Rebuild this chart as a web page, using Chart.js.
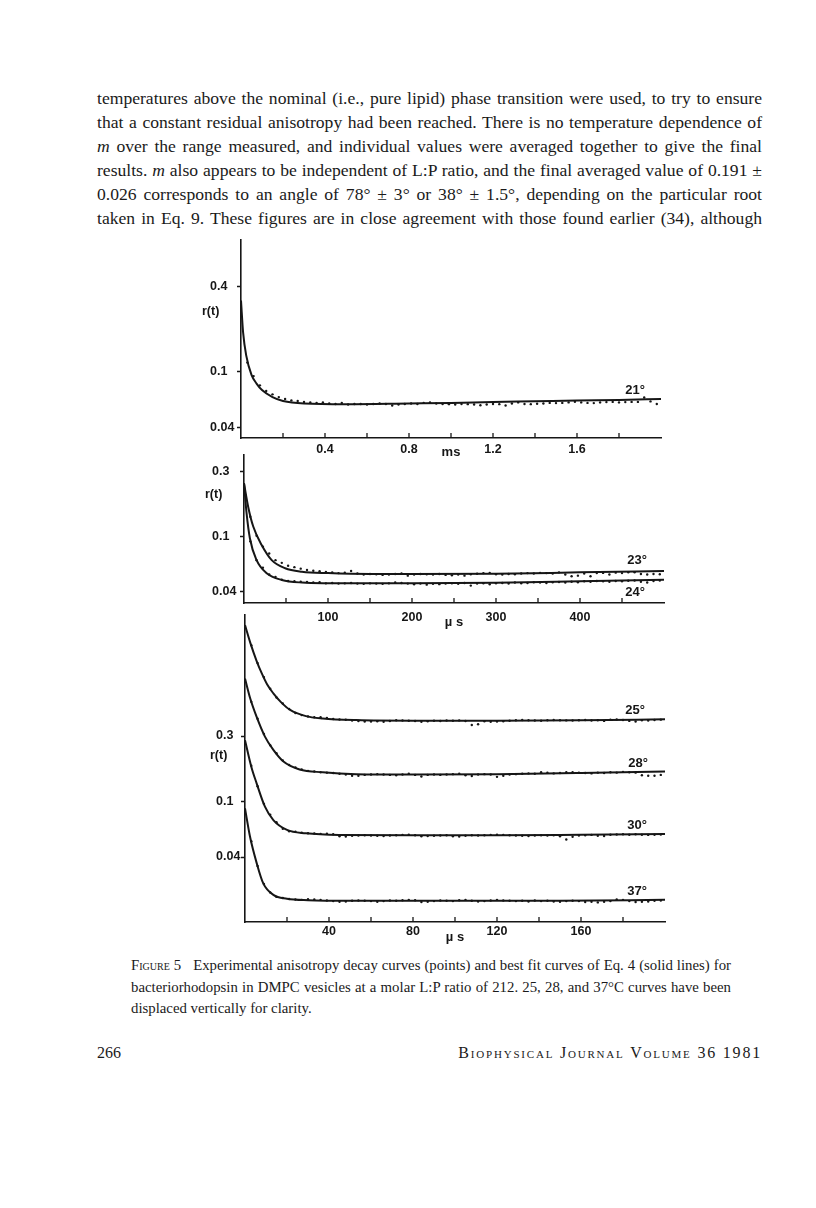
<!DOCTYPE html>
<html>
<head>
<meta charset="utf-8">
<script src="https://cdn.jsdelivr.net/npm/chart.js@4.4.1/dist/chart.umd.min.js"></script>
<style>
body { margin: 0; width: 816px; height: 1208px; position: relative; overflow: hidden; background: #fff; color: #1a1a1a; font-family: "Liberation Serif", "Times New Roman", serif; }
.txt { position: absolute; left: 97px; top: 86px; width: 665px; font-size: 17.6px; line-height: 24px; }
.txt div, .cap .j { text-align: justify; text-align-last: justify; white-space: nowrap; }
.cap { position: absolute; left: 131px; top: 955px; width: 600px; font-size: 14.8px; line-height: 21.5px; }
.sc { font-variant: small-caps; }
.foot { position: absolute; top: 1044px; font-size: 16px; line-height: 18px; }
canvas { position: absolute; left: 0; }
.rt { position: absolute; font: bold 12.5px "Liberation Sans", Arial, sans-serif; color: #161616; }
</style>
</head>
<body>
<div class="txt">
<div>temperatures above the nominal (i.e., pure lipid) phase transition were used, to try to ensure</div>
<div>that a constant residual anisotropy had been reached. There is no temperature dependence of</div>
<div><i>m</i> over the range measured, and individual values were averaged together to give the final</div>
<div>results. <i>m</i> also appears to be independent of L:P ratio, and the final averaged value of 0.191 ±</div>
<div>0.026 corresponds to an angle of 78° ± 3° or 38° ± 1.5°, depending on the particular root</div>
<div>taken in Eq. 9. These figures are in close agreement with those found earlier (34), although</div>
</div>

<canvas id="p1" width="700" height="230" style="top:230px"></canvas>
<canvas id="p2" width="700" height="185" style="top:445px"></canvas>
<canvas id="p3" width="700" height="340" style="top:605px"></canvas>
<div class="rt" style="left:202px;top:304px">r(t)</div>
<div class="rt" style="left:205px;top:487px">r(t)</div>
<div class="rt" style="left:210px;top:748px">r(t)</div>

<div class="cap">
<div class="j"><span class="sc">Figure 5</span>&nbsp;&nbsp; Experimental anisotropy decay curves (points) and best fit curves of Eq. 4 (solid lines) for</div>
<div class="j">bacteriorhodopsin in DMPC vesicles at a molar L:P ratio of 212. 25, 28, and 37°C curves have been</div>
<div>displaced vertically for clarity.</div>
</div>

<div class="foot" style="left:97px">266</div>
<div class="foot sc" style="right:54px;letter-spacing:1.8px">Biophysical Journal Volume 36 1981</div>

<script>
// Figure 5: anisotropy decay r(t), log y axis

// ---- top panel, 21 C, time in ms ----
const fitT21 = [0, 0.01, 0.025, 0.05, 0.075, 0.1, 0.15, 0.2, 0.3, 0.5, 0.8, 1.0, 1.2, 1.4, 1.6, 1.8, 2.0];
const fit21 = [0.32, 0.19, 0.13, 0.095, 0.082, 0.074, 0.066, 0.062, 0.0595, 0.0588, 0.0595, 0.060, 0.061, 0.0617, 0.0625, 0.063, 0.064];
const dotT1 = [0.03, 0.06, 0.09, 0.12, 0.15, 0.18, 0.21, 0.24, 0.27, 0.30, 0.33, 0.36, 0.39, 0.42, 0.45, 0.48, 0.51, 0.54, 0.57, 0.60,
  0.63, 0.66, 0.69, 0.72, 0.75, 0.78, 0.81, 0.84, 0.87, 0.90, 0.93, 0.96, 0.99, 1.02, 1.05, 1.08, 1.11, 1.14, 1.17, 1.20,
  1.23, 1.26, 1.29, 1.32, 1.35, 1.38, 1.41, 1.44, 1.47, 1.50, 1.53, 1.56, 1.59, 1.62, 1.65, 1.68, 1.71, 1.74, 1.77, 1.80,
  1.83, 1.86, 1.89, 1.92, 1.95, 1.98];
const dots21 = [0.116, 0.093, 0.080, 0.073, 0.069, 0.066, 0.064, 0.0625, 0.062, 0.061, 0.0605, 0.060, 0.0605, 0.0595, 0.059, 0.060, 0.0585, 0.059, 0.059, 0.0585,
  0.059, 0.0595, 0.059, 0.0575, 0.0585, 0.059, 0.0595, 0.059, 0.060, 0.0605, 0.0595, 0.059, 0.0588, 0.0585, 0.059, 0.0588, 0.0585, 0.0578, 0.0585, 0.059,
  0.0588, 0.0575, 0.0595, 0.0605, 0.059, 0.0588, 0.0592, 0.0595, 0.060, 0.0598, 0.060, 0.0605, 0.0612, 0.0605, 0.060, 0.0598, 0.0605, 0.0608, 0.061, 0.0605,
  0.0608, 0.061, 0.061, 0.0655, 0.0615, 0.059];
const xTicks1 = [0.2, 0.4, 0.6, 0.8, 1.0, 1.2, 1.4, 1.6, 1.8];
const xLabels1 = [0.4, 0.8, 1.2, 1.6];
const yTicks1 = [0.04, 0.1, 0.4];

// ---- middle panel, 23 and 24 C, time in us ----
const fitT23 = [0, 5, 11, 21, 33, 49, 69, 100, 150, 200, 300, 400, 500];
const fit23 = [0.245, 0.165, 0.119, 0.0875, 0.068, 0.0594, 0.0561, 0.0548, 0.054, 0.054, 0.0542, 0.0555, 0.0568];
const fitT24 = [0, 3, 7, 15, 27, 45, 69, 100, 150, 200, 300, 400, 500];
const fit24 = [0.245, 0.15, 0.098, 0.068, 0.0547, 0.0489, 0.0468, 0.0463, 0.0462, 0.0462, 0.0467, 0.0478, 0.049];
const dotT2 = [7.5, 15, 22.5, 30, 37.5, 45, 52.5, 60, 67.5, 75, 82.5, 90, 97.5, 105, 112.5, 120, 127.5, 135, 142.5, 150,
  157.5, 165, 172.5, 180, 187.5, 195, 202.5, 210, 217.5, 225, 232.5, 240, 247.5, 255, 262.5, 270, 277.5, 285, 292.5, 300,
  307.5, 315, 322.5, 330, 337.5, 345, 352.5, 360, 367.5, 375, 382.5, 390, 397.5, 405, 412.5, 420, 427.5, 435, 442.5, 450,
  457.5, 465, 472.5, 480, 487.5, 495];
const dots23 = [0.140, 0.102, 0.085, 0.076, 0.068, 0.065, 0.062, 0.0605, 0.059, 0.0577, 0.057, 0.0565, 0.0558, 0.0555, 0.0548, 0.0552, 0.0568, 0.0545, 0.0535, 0.054,
  0.0538, 0.0532, 0.0535, 0.054, 0.0545, 0.0525, 0.0535, 0.054, 0.0538, 0.0535, 0.054, 0.0532, 0.0528, 0.0535, 0.0525, 0.0538, 0.0542, 0.0548, 0.055, 0.0538,
  0.0535, 0.054, 0.0538, 0.0545, 0.0548, 0.0545, 0.055, 0.0548, 0.0545, 0.0555, 0.0535, 0.052, 0.0525, 0.0545, 0.052, 0.0548, 0.055, 0.0535, 0.0552, 0.0548,
  0.0555, 0.0555, 0.054, 0.0535, 0.054, 0.0538];
const dots24 = [0.093, 0.068, 0.060, 0.0535, 0.0515, 0.049, 0.048, 0.0478, 0.0475, 0.0472, 0.0468, 0.047, 0.0462, 0.0465, 0.046, 0.0462, 0.0465, 0.046, 0.0458, 0.0462,
  0.046, 0.0458, 0.0462, 0.0468, 0.0465, 0.046, 0.0455, 0.046, 0.0452, 0.0458, 0.0456, 0.046, 0.0462, 0.0458, 0.0465, 0.0445, 0.046, 0.0462, 0.0455, 0.0462,
  0.0465, 0.046, 0.0468, 0.0462, 0.0465, 0.047, 0.0468, 0.0465, 0.047, 0.0472, 0.0468, 0.0475, 0.047, 0.0478, 0.0475, 0.048, 0.0478, 0.0475, 0.048, 0.0478,
  0.0482, 0.0485, 0.0475, 0.0468, 0.048, 0.0485];
const xTicks2 = [50, 100, 150, 200, 250, 300, 350, 400, 450];
const xLabels2 = [100, 200, 300, 400];
const yTicks2 = [0.04, 0.1, 0.3];

// ---- bottom panel, 25/28/30/37 C (displaced), time in us ----
const fitT25 = [0, 2.5, 5.5, 8, 10.5, 13.5, 17, 21.5, 29, 37, 53, 80, 120, 160, 200];
const fit25 = [1.9, 1.42, 1.05, 0.85, 0.71, 0.61, 0.53, 0.463, 0.418, 0.402, 0.391, 0.387, 0.387, 0.39, 0.396];
const fitT28 = [0, 2.5, 5.5, 9.5, 13.5, 18, 26, 37, 53, 80, 120, 160, 200];
const fit28 = [0.78, 0.56, 0.414, 0.297, 0.238, 0.198, 0.172, 0.164, 0.159, 0.158, 0.159, 0.162, 0.166];
const fitT30 = [0, 3, 5.5, 9.5, 13.5, 20, 29, 45, 80, 120, 160, 200];
const fit30 = [0.28, 0.18, 0.137, 0.0925, 0.074, 0.0628, 0.0594, 0.0578, 0.0575, 0.0575, 0.058, 0.0587];
const fitT37 = [0, 2.4, 5.6, 8.7, 13.5, 20, 30, 50, 100, 150, 200];
const fit37 = [0.09, 0.056, 0.036, 0.0258, 0.0213, 0.020, 0.0195, 0.0193, 0.0193, 0.0193, 0.0196];
const dotT3 = [3, 6, 9, 12, 15, 18, 21, 24, 27, 30, 33, 36, 39, 42, 45, 48, 51, 54, 57, 60,
  63, 66, 69, 72, 75, 78, 81, 84, 87, 90, 93, 96, 99, 102, 105, 108, 111, 114, 117, 120,
  123, 126, 129, 132, 135, 138, 141, 144, 147, 150, 153, 156, 159, 162, 165, 168, 171, 174, 177, 180,
  183, 186, 189, 192, 195, 198];
const dots25 = [1.36, 1.01, 0.80, 0.66, 0.57, 0.515, 0.47, 0.44, 0.425, 0.415, 0.41, 0.41, 0.405, 0.398, 0.395, 0.393, 0.388, 0.385, 0.382, 0.382,
  0.383, 0.38, 0.385, 0.39, 0.388, 0.387, 0.385, 0.38, 0.383, 0.387, 0.385, 0.388, 0.387, 0.389, 0.385, 0.36, 0.365, 0.383, 0.38, 0.382,
  0.383, 0.387, 0.39, 0.392, 0.39, 0.388, 0.387, 0.39, 0.392, 0.39, 0.389, 0.388, 0.39, 0.392, 0.388, 0.39, 0.386, 0.393, 0.395, 0.392,
  0.386, 0.382, 0.39, 0.388, 0.392, 0.394];
const dots28 = [0.53, 0.40, 0.31, 0.257, 0.225, 0.2, 0.185, 0.178, 0.172, 0.168, 0.166, 0.164, 0.163, 0.162, 0.16, 0.158, 0.155, 0.155, 0.157, 0.158,
  0.159, 0.158, 0.157, 0.156, 0.158, 0.16, 0.157, 0.153, 0.157, 0.158, 0.157, 0.158, 0.159, 0.16, 0.156, 0.154, 0.158, 0.159, 0.158, 0.152,
  0.155, 0.158, 0.159, 0.16, 0.161, 0.16, 0.164, 0.163, 0.161, 0.162, 0.164, 0.164, 0.163, 0.162, 0.161, 0.163, 0.162, 0.164, 0.163, 0.165,
  0.164, 0.163, 0.156, 0.155, 0.155, 0.157];
const dots30 = [0.183, 0.13, 0.097, 0.081, 0.0715, 0.064, 0.0615, 0.061, 0.06, 0.0595, 0.0592, 0.0588, 0.059, 0.0585, 0.0565, 0.0562, 0.057, 0.0572, 0.0575, 0.0572,
  0.057, 0.0568, 0.0572, 0.0575, 0.0578, 0.058, 0.0575, 0.0565, 0.0568, 0.057, 0.0572, 0.0575, 0.0565, 0.0562, 0.057, 0.0575, 0.0572, 0.0575, 0.0578, 0.058,
  0.0578, 0.0575, 0.0572, 0.057, 0.0568, 0.0572, 0.0575, 0.0572, 0.0575, 0.0565, 0.0535, 0.056, 0.0572, 0.0575, 0.0578, 0.057, 0.0568, 0.058, 0.0582, 0.0585,
  0.058, 0.0585, 0.058, 0.0578, 0.058, 0.0582];
const dots37 = [0.052, 0.0345, 0.0255, 0.0222, 0.0206, 0.0202, 0.0199, 0.0197, 0.0196, 0.0198, 0.0197, 0.0196, 0.0194, 0.0192, 0.019, 0.0191, 0.0193, 0.0194, 0.0193, 0.0192,
  0.019, 0.0192, 0.0194, 0.0193, 0.0195, 0.0196, 0.0195, 0.0189, 0.019, 0.0192, 0.0194, 0.0193, 0.0192, 0.0195, 0.0196, 0.0193, 0.0191, 0.0192, 0.0194, 0.0196,
  0.0194, 0.0193, 0.0192, 0.0193, 0.0191, 0.0194, 0.0192, 0.0193, 0.0191, 0.019, 0.0192, 0.0193, 0.0192, 0.0189, 0.019, 0.0188, 0.019, 0.0192, 0.0197, 0.0196,
  0.0192, 0.0189, 0.019, 0.0191, 0.0193, 0.0194];
const xTicks3 = [20, 40, 60, 80, 100, 120, 140, 160, 180];
const xLabels3 = [40, 80, 120, 160];
const yTicks3 = [0.04, 0.1, 0.3];

const ink = '#161616';
const axisFont = { family: '"Liberation Sans", Arial, sans-serif', size: 12.5, weight: 'bold' };

function pts(xs, ys) {
  return xs.map((x, i) => ({ x: x, y: ys[i] }));
}

function fitSet(xs, ys, tag, tagDx, tagDy) {
  return {
    data: pts(xs, ys), showLine: true, borderColor: ink, borderWidth: 2,
    pointRadius: 0, cubicInterpolationMode: 'monotone',
    tag: tag, tagDx: tagDx, tagDy: tagDy
  };
}

function dotSet(xs, ys) {
  return { data: pts(xs, ys), showLine: false, pointRadius: 1.2, pointBackgroundColor: ink, pointBorderWidth: 0 };
}

// tick marks on the x axis point up into the plot
const innerTicks = {
  id: 'innerTicks',
  afterDraw(chart) {
    const sx = chart.scales.x, ctx = chart.ctx, b = chart.chartArea.bottom;
    ctx.save();
    ctx.strokeStyle = ink;
    ctx.lineWidth = 1.3;
    sx.ticks.forEach(tk => {
      const px = sx.getPixelForValue(tk.value);
      ctx.beginPath();
      ctx.moveTo(px, b);
      ctx.lineTo(px, b - 5);
      ctx.stroke();
    });
    ctx.restore();
  }
};

// temperature labels next to the end of each fitted curve
const tempTags = {
  id: 'tempTags',
  afterDatasetsDraw(chart) {
    const ctx = chart.ctx;
    ctx.save();
    ctx.fillStyle = ink;
    ctx.font = 'bold 13px "Liberation Sans", Arial, sans-serif';
    ctx.textAlign = 'right';
    ctx.textBaseline = 'alphabetic';
    chart.data.datasets.forEach((ds, i) => {
      if (!ds.tag) return;
      const els = chart.getDatasetMeta(i).data;
      const last = els[els.length - 1];
      ctx.fillText(ds.tag, last.x + ds.tagDx, last.y + ds.tagDy);
    });
    ctx.restore();
  }
};

function panel(id, sets, o) {
  return new Chart(document.getElementById(id), {
    type: 'scatter',
    data: { datasets: sets },
    options: {
      responsive: false,
      animation: false,
      devicePixelRatio: 1,
      layout: { padding: { top: 10, right: o.padRight, left: o.padLeft, bottom: 0 } },
      plugins: { legend: { display: false }, tooltip: { enabled: false } },
      scales: {
        x: {
          type: 'linear', min: 0, max: o.xMax,
          afterFit: s => { s.height = o.xHeight; },
          afterBuildTicks: s => { s.ticks = o.xTicks.map(v => ({ value: v })); },
          ticks: {
            autoSkip: false, maxRotation: 0, padding: o.xPad, color: ink, font: axisFont,
            callback: v => o.xLabels.includes(v) ? String(v) : ''
          },
          grid: { display: false, drawTicks: false },
          border: { color: ink, width: 1.6 },
          title: { display: true, text: o.xTitle, color: ink, font: { family: axisFont.family, size: 13, weight: 'bold' }, padding: { top: 0, bottom: 0 } }
        },
        y: {
          type: 'logarithmic', min: o.yMin, max: o.yMax,
          afterFit: s => { s.width = o.yWidth; },
          afterBuildTicks: s => { s.ticks = o.yTicks.map(v => ({ value: v })); },
          ticks: { autoSkip: false, padding: 2, crossAlign: 'far', color: ink, font: axisFont, callback: v => String(v) },
          grid: { drawOnChartArea: false, drawTicks: true, tickLength: 4, tickColor: ink, tickWidth: 1.5 },
          border: { color: ink, width: 1.6 }
        }
      }
    },
    plugins: [innerTicks, tempTags]
  });
}

panel('p1', [
  dotSet(dotT1, dots21),
  fitSet(fitT21, fit21, '21°', -16, -5)
], { xMax: 2.0, xTicks: xTicks1, xLabels: xLabels1, xTitle: 'ms', xPad: 4, xHeight: 22,
     yMin: 0.0338, yMax: 0.862, yTicks: yTicks1, padLeft: 210, yWidth: 31, padRight: 39 });

panel('p2', [
  dotSet(dotT2, dots23),
  dotSet(dotT2, dots24),
  fitSet(fitT23, fit23, '23°', -17, -7),
  fitSet(fitT24, fit24, '24°', -19, 16)
], { xMax: 500, xTicks: xTicks2, xLabels: xLabels2, xTitle: 'µ s', xPad: 7, xHeight: 27,
     yMin: 0.0333, yMax: 0.392, yTicks: yTicks2, padLeft: 212, yWidth: 32, padRight: 36 });

panel('p3', [
  dotSet(dotT3, dots25),
  dotSet(dotT3, dots28),
  dotSet(dotT3, dots30),
  dotSet(dotT3, dots37),
  fitSet(fitT25, fit25, '25°', -20, -5),
  fitSet(fitT28, fit28, '28°', -17, -5),
  fitSet(fitT30, fit30, '30°', -18, -5),
  fitSet(fitT37, fit37, '37°', -18, -5)
], { xMax: 200, xTicks: xTicks3, xLabels: xLabels3, xTitle: 'µ s', xPad: 2, xHeight: 23,
     yMin: 0.01356, yMax: 2.25, yTicks: yTicks3, padLeft: 216, yWidth: 29, padRight: 35 });
</script>
</body>
</html>
